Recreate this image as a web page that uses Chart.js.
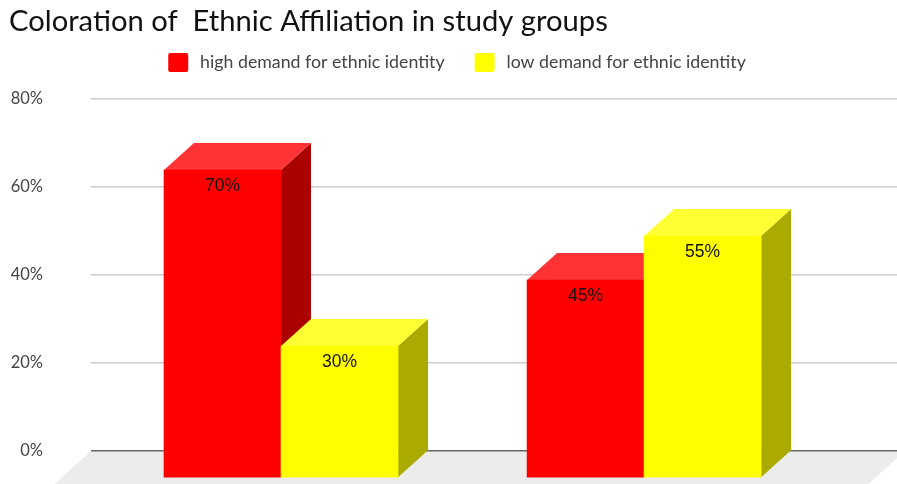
<!DOCTYPE html>
<html>
<head>
<meta charset="utf-8">
<title>Coloration of Ethnic Affiliation</title>
<script src="https://cdn.jsdelivr.net/npm/chart.js@4"></script>
<style>
    html, body { margin: 0; padding: 0; background: #fff; overflow: hidden; }
    canvas { display: block; }
</style>
</head>
<body>
<canvas id="myChart" width="897" height="484"></canvas>
<script>
const chartTitle = 'Coloration of  Ethnic Affiliation in study groups'
const groupPositions = [0, 1]
const highDemand = [70, 45]
const lowDemand = [30, 55]
const seriesNames = ['high demand for ethnic identity', 'low demand for ethnic identity']
const yTicks = [0, 20, 40, 60, 80]

// how far the front face of a bar sits from its back face
const depthX = 30
const depthY = 27

const faces = [
    { front: '#ff0000', top: '#ff3333', side: '#aa0000' },
    { front: '#ffff00', top: '#ffff33', side: '#aaaa00' }
]

function polygon(ctx, points, color) {
    ctx.fillStyle = color
    ctx.beginPath()
    points.forEach((p, i) => i ? ctx.lineTo(p[0], p[1]) : ctx.moveTo(p[0], p[1]))
    ctx.closePath()
    ctx.fill()
}

const bars3d = {
    id: 'bars3d',
    // more space under the legend than the library leaves
    beforeInit(chart) {
        const fit = chart.legend.fit
        chart.legend.fit = function () {
            fit.call(this)
            this.height += 17.5
        }
    },
    // default drawing puts the first dataset on top, here the last one has to be
    beforeDatasetDraw() {
        return false
    },
    afterDatasetsDraw(chart) {
        const ctx = chart.ctx

        // grey floor under the bars, it runs a little past the right edge
        const y0 = chart.scales.y.getPixelForValue(0)
        const { left, right } = chart.chartArea
        const h = chart.height - y0
        polygon(ctx, [
            [left, y0],
            [right + 8, y0],
            [right + 8 - h * depthX / depthY, chart.height],
            [left - h * depthX / depthY, chart.height]
        ], '#ececec')
        ctx.fillStyle = '#666'
        ctx.fillRect(left, y0 - 1, right - left, 1.5)

        // side and top first, then the library draws the front shifted to the front plane
        chart.data.datasets.forEach((ds, i) => {
            const meta = chart.getDatasetMeta(i)
            meta.data.forEach(bar => {
                const l = bar.x - bar.width / 2
                const r = bar.x + bar.width / 2
                polygon(ctx, [[r, bar.y], [r, bar.base], [r - depthX, bar.base + depthY], [r - depthX, bar.y + depthY]], faces[i].side)
                polygon(ctx, [[l, bar.y], [r, bar.y], [r - depthX, bar.y + depthY], [l - depthX, bar.y + depthY]], faces[i].top)
            })
            ctx.save()
            ctx.translate(-depthX, depthY)
            meta.controller.draw()
            ctx.restore()
        })

        ctx.save()
        ctx.font = '17.5px "Liberation Sans"'
        ctx.fillStyle = '#111'
        ctx.textAlign = 'center'
        ctx.textBaseline = 'middle'
        chart.data.datasets.forEach((ds, i) => {
            chart.getDatasetMeta(i).data.forEach((bar, j) => {
                ctx.fillText(ds.data[j].y + '%', bar.x - depthX, bar.y + depthY + 16)
            })
        })
        ctx.restore()
    },
    // the legend keeps more room than the swatch needs, so the swatch is painted here
    afterDraw(chart) {
        const ctx = chart.ctx
        chart.legend.legendHitBoxes.forEach((box, i) => {
            ctx.fillStyle = faces[i].front
            ctx.beginPath()
            ctx.roundRect(box.left, box.top + 0.5, 20, 19, 2)
            ctx.fill()
        })
    }
}

const toPoints = values => values.map((v, i) => ({ x: groupPositions[i], y: v }))

const config = {
    type: 'bar',
    data: {
        datasets: [
            { label: seriesNames[0], data: toPoints(highDemand), backgroundColor: faces[0].front, clip: false },
            { label: seriesNames[1], data: toPoints(lowDemand), backgroundColor: faces[1].front, clip: false }
        ]
    },
    options: {
        responsive: false,
        animation: false,
        barThickness: 117,
        layout: {
            // negative right moves the centred legend over
            padding: { left: 9, right: -8, top: 0, bottom: 33 }
        },
        plugins: {
            tooltip: { enabled: false },
            title: {
                display: true,
                text: chartTitle,
                align: 'start',
                color: '#111',
                font: { family: 'Lato', size: 29.2, weight: 'normal' },
                padding: { top: 4, bottom: -16.5 }
            },
            legend: {
                display: true,
                position: 'top',
                labels: {
                    boxWidth: 23,
                    boxHeight: 19,
                    padding: 30,
                    font: { family: 'Lato', size: 17.75 },
                    generateLabels: chart => chart.data.datasets.map((ds, i) => ({
                        text: ds.label,
                        datasetIndex: i,
                        fillStyle: 'transparent',
                        strokeStyle: 'transparent',
                        lineWidth: 0,
                        fontColor: '#444'
                    }))
                }
            }
        },
        scales: {
            x: {
                type: 'linear',
                display: false,
                offset: false,
                min: -0.606,
                max: 1.614
            },
            y: {
                min: 0,
                max: 80,
                afterFit: scale => { scale.width = 82 },
                afterBuildTicks: scale => { scale.ticks = yTicks.map(v => ({ value: v })) },
                border: { display: false },
                grid: {
                    color: '#cccccc',
                    lineWidth: 1.5,
                    // invisible tick mark keeps the labels away from the grid lines
                    tickLength: 48,
                    tickColor: 'transparent'
                },
                ticks: {
                    padding: 0,
                    color: '#444',
                    font: { family: 'Lato', size: 16.5 },
                    callback: value => value + '%'
                }
            }
        }
    },
    plugins: [bars3d]
}

new Chart(document.getElementById('myChart'), config)
</script>
</body>
</html>
